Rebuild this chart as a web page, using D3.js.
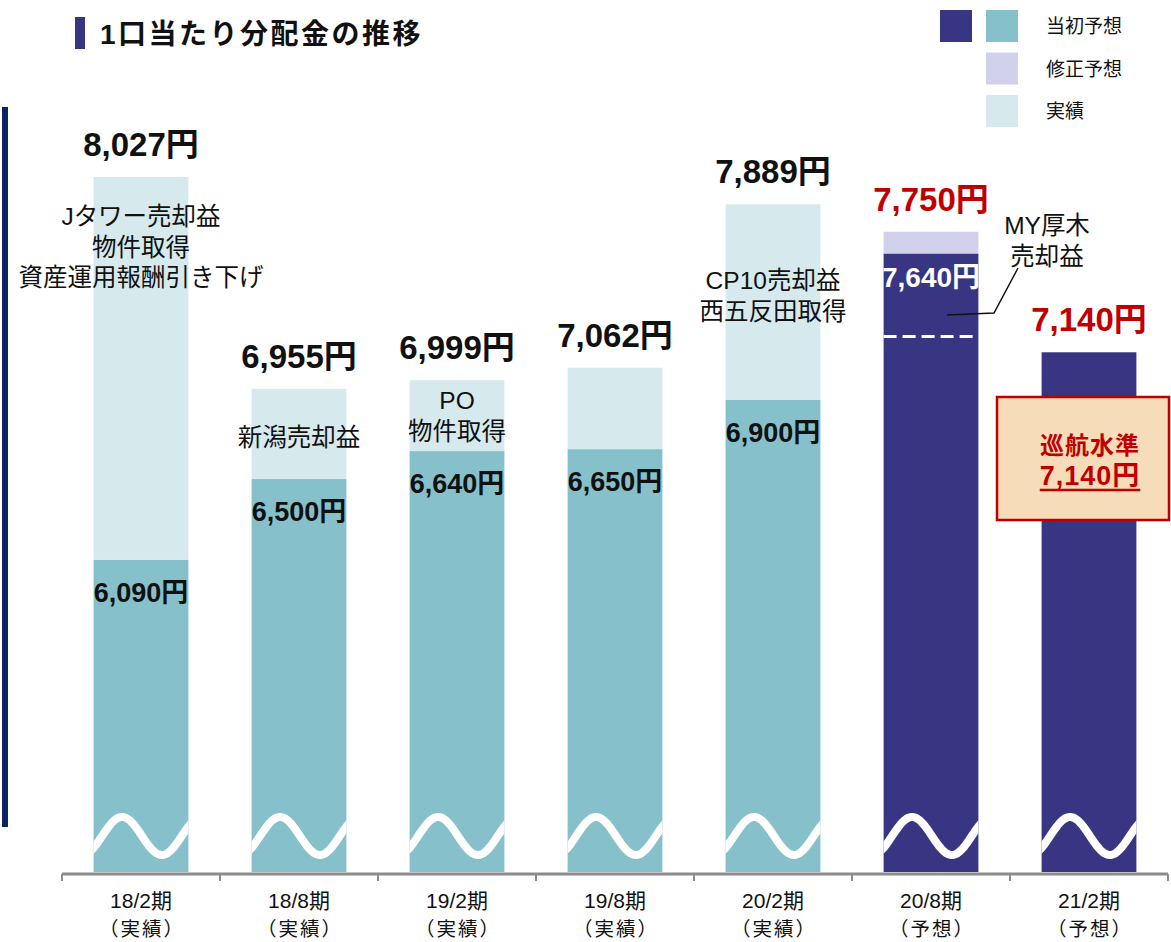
<!DOCTYPE html>
<html><head><meta charset="utf-8">
<script src="https://cdn.jsdelivr.net/npm/d3@7"></script>
<style>
html,body{margin:0;padding:0;background:#fff;}
svg{display:block;}
text{font-family:"Liberation Sans","Noto Sans CJK JP",sans-serif;}
.jp{font-family:"Noto Sans CJK JP","Liberation Sans",sans-serif;}
</style>
</head><body>
<svg id="chart" width="1171" height="942"></svg>
<script>
// ---- data ----
const categories = ["18/2期","18/8期","19/2期","19/8期","20/2期","20/8期","21/2期"];
const periodTypes = ["（実績）","（実績）","（実績）","（実績）","（実績）","（予想）","（予想）"];
const baseValues  = [6090, 6500, 6640, 6650, 6900, 7640, 7140];
const totalValues = [8027, 6955, 6999, 7062, 7889, 7750, 7140];
const baseKind    = ["actual","actual","actual","actual","actual","forecast","forecast"];
const upperKind   = ["result","result","result","result","result","revised","none"];
const notes = [
  ["Jタワー売却益","物件取得","資産運用報酬引き下げ"],
  ["新潟売却益"],
  ["PO","物件取得"],
  [],
  ["CP10売却益","西五反田取得"],
  [],
  []
];
const sideNote = ["MY厚木","売却益"];
const initialForecast2008 = 7220;
const cruiseLabel = "巡航水準";
const cruiseValue = 7140;
const legendItems = ["当初予想","修正予想","実績"];
const titleText = "1口当たり分配金の推移";

// ---- styles ----
const C = {
  navy:"#383682", teal:"#86c0cb", lav:"#d1d1ec", light:"#d6e9ed",
  red:"#c00000", box:"#f6dcb8", axis:"#8c8c8c", frame:"#0a2463"
};
const fmt = d3.format(",");
const svg = d3.select("#chart");

const x = d3.scaleBand().domain(categories).range([62, 1168]).paddingInner(0.4).paddingOuter(0.2);
const y = d3.scaleLinear().domain([4510, 8027]).range([872, 177]);
const bw = x.bandwidth();
const step = x.step();

// title
svg.append("rect").attr("x",75).attr("y",17).attr("width",10).attr("height",32).attr("fill",C.navy);
svg.append("text").attr("x",100).attr("y",44).attr("font-size",28).attr("font-weight","bold")
  .attr("letter-spacing",2.5).attr("fill","#111").text(titleText);

// legend
const legColors = [C.teal, C.lav, C.light];
svg.append("rect").attr("x",940).attr("y",10).attr("width",32).attr("height",32).attr("fill",C.navy);
legendItems.forEach((t,i)=>{
  const yy = 10 + i*42.5;
  svg.append("rect").attr("x",986).attr("y",yy).attr("width",32).attr("height",32).attr("fill",legColors[i]);
  svg.append("text").attr("class","jp").attr("x",1046).attr("y",yy+23).attr("font-size",19)
    .attr("fill","#111").text(t);
});

// left frame line
svg.append("rect").attr("x",2).attr("y",107).attr("width",6).attr("height",720).attr("fill",C.frame);

// bars
const g = svg.append("g");
categories.forEach((c,i)=>{
  const x0 = x(c);
  const bColor = baseKind[i]==="actual" ? C.teal : C.navy;
  g.append("rect").attr("x",x0).attr("y",y(baseValues[i])).attr("width",bw)
    .attr("height",y.range()[0]-y(baseValues[i])).attr("fill",bColor);
  if (upperKind[i] !== "none" && totalValues[i] > baseValues[i]) {
    g.append("rect").attr("x",x0).attr("y",y(totalValues[i])).attr("width",bw)
      .attr("height",y(baseValues[i])-y(totalValues[i]))
      .attr("fill", upperKind[i]==="result" ? C.light : C.lav);
  }
});

// clip paths per bar
const defs = svg.append("defs");
categories.forEach((c,i)=>{
  defs.append("clipPath").attr("id","clip"+i).append("rect")
    .attr("x",x(c)).attr("y",y(totalValues[i])).attr("width",bw).attr("height",y.range()[0]-y(totalValues[i]));
});

// break waves
categories.forEach((c,i)=>{
  const x0 = x(c);
  const P = bw*0.84, A = 19, cy = 836, xp = x0 + bw*0.3;
  const pts = d3.range(x0-10, x0+bw+10, 1).map(xx=>[xx, cy - A*Math.cos(2*Math.PI*(xx-xp)/P)]);
  g.append("path").attr("d", d3.line().curve(d3.curveBasis)(pts)).attr("fill","none")
    .attr("stroke","#fff").attr("stroke-width",8).attr("clip-path","url(#clip"+i+")");
});

// dashed initial forecast line for 20/8
{
  const c = categories[5];
  g.append("line").attr("x1",x(c)).attr("x2",x(c)+bw).attr("y1",y(initialForecast2008)).attr("y2",y(initialForecast2008))
    .attr("stroke","#fff").attr("stroke-width",3).attr("stroke-dasharray","13,6");
}

// x axis
const axY = 874;
svg.append("line").attr("x1",62).attr("x2",1168).attr("y1",axY).attr("y2",axY)
  .attr("stroke",C.axis).attr("stroke-width",3);
const bounds = categories.map(c=>x(c)-(step-bw)/2).concat([x(categories[categories.length-1])+bw+(step-bw)/2]);
bounds.forEach(b=>{
  svg.append("line").attr("x1",b).attr("x2",b).attr("y1",axY).attr("y2",axY+7)
    .attr("stroke",C.axis).attr("stroke-width",2);
});
categories.forEach((c,i)=>{
  const cx = x(c)+bw/2;
  svg.append("text").attr("x",cx).attr("y",908).attr("text-anchor","middle").attr("font-size",21)
    .attr("fill","#111").text(c);
  svg.append("text").attr("class","jp").attr("x",cx+1).attr("y",936).attr("text-anchor","middle").attr("font-size",19.5)
    .attr("letter-spacing",2).attr("fill","#111").text(periodTypes[i]);
});

// total labels
categories.forEach((c,i)=>{
  const cx = x(c)+bw/2;
  svg.append("text").attr("x",cx).attr("y",y(totalValues[i])-21).attr("text-anchor","middle")
    .attr("font-size",33).attr("font-weight","bold")
    .attr("fill", baseKind[i]==="actual" ? "#111" : C.red)
    .text(fmt(totalValues[i])+"円");
});

// base labels
categories.forEach((c,i)=>{
  if (totalValues[i] === baseValues[i]) return;
  const cx = x(c)+bw/2;
  const isF = baseKind[i]!=="actual";
  svg.append("text").attr("x",cx).attr("y",y(baseValues[i])+(isF?34:42)).attr("text-anchor","middle")
    .attr("font-size",isF?28:27).attr("font-weight","bold")
    .attr("fill", isF ? "#fff" : "#111")
    .attr("clip-path", isF ? "url(#clip"+i+")" : null)
    .text(fmt(baseValues[i])+"円");
});

// notes in bars
const noteOffset = [48, 57, 29, 0, 85];
notes.forEach((lines,i)=>{
  const cx = x(categories[i])+bw/2;
  lines.forEach((t,k)=>{
    svg.append("text").attr("x",cx).attr("y",y(totalValues[i])+noteOffset[i]+k*30.5)
      .attr("text-anchor","middle").attr("font-size",24.5)
      .attr("fill","#111").text(t);
  });
});

// side note MY厚木
{
  const cx = x(categories[6])+bw/2 - 42;
  sideNote.forEach((t,k)=>{
    svg.append("text").attr("x",cx).attr("y",234+k*30.5).attr("text-anchor","middle")
      .attr("font-size",24.5).attr("fill","#111").text(t);
  });
  const c5 = categories[5];
  svg.append("path").attr("d", d3.line()([[cx-29,268],[cx-53,313],[x(c5)+bw/2+16,315]]))
    .attr("fill","none").attr("stroke","#111").attr("stroke-width",1.5);
}

// cruise box
{
  const bx = 997, byy = 397, bwid = 172, bh = 123;
  svg.append("rect").attr("x",bx).attr("y",byy).attr("width",bwid).attr("height",bh)
    .attr("fill",C.box).attr("stroke",C.red).attr("stroke-width",2.5);
  const cx = 1090;
  svg.append("text").attr("class","jp").attr("x",cx).attr("y",454).attr("text-anchor","middle").attr("font-size",24)
    .attr("font-weight","bold").attr("letter-spacing",1).attr("fill",C.red).text(cruiseLabel);
  const t2 = svg.append("text").attr("x",cx).attr("y",485).attr("text-anchor","middle").attr("font-size",27)
    .attr("font-weight","bold").attr("letter-spacing",1).attr("fill",C.red).text(fmt(cruiseValue)+"円");
  const bb = t2.node().getBBox();
  svg.append("line").attr("x1",bb.x).attr("x2",bb.x+bb.width).attr("y1",490).attr("y2",490)
    .attr("stroke",C.red).attr("stroke-width",2.5);
}
</script>
</body></html>
